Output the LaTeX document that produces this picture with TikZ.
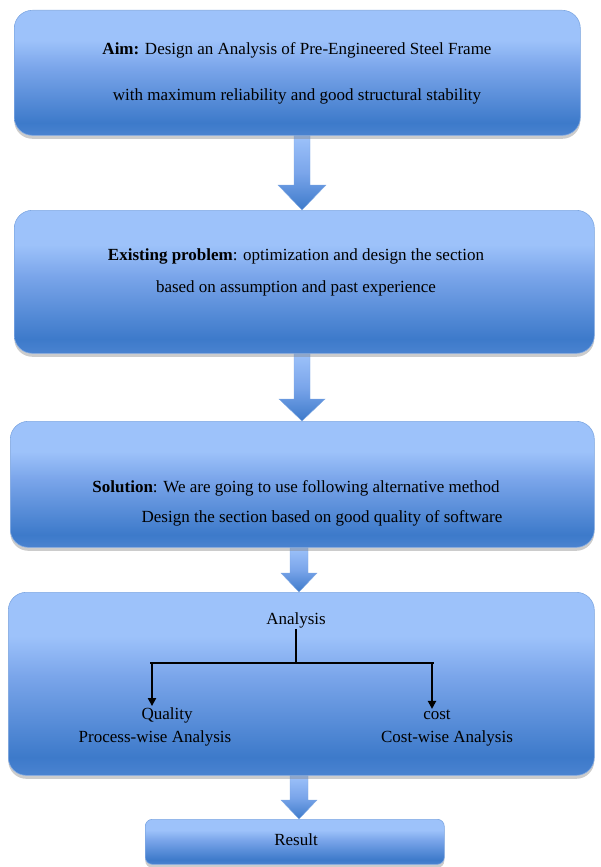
\documentclass[tikz,border=0pt]{standalone}
\usepackage{fontspec}
\setmainfont{Liberation Serif}
\usetikzlibrary{calc,shadows,arrows.meta,backgrounds}
\definecolor{topc}{HTML}{9DC2FA}
\definecolor{midc}{HTML}{7AA5EA}
\definecolor{botc}{HTML}{3D7ACA}
\definecolor{bedge}{HTML}{4A83D0}
\definecolor{edgec}{HTML}{7FA8E2}
\pgfdeclareverticalshading{boxshade}{100bp}{color(0bp)=(bedge); color(25bp)=(bedge); color(30bp)=(botc); color(52bp)=(midc); color(63bp)=(topc); color(100bp)=(topc)}
\pgfdeclareverticalshading{arrshade}{100bp}{color(0bp)=(botc); color(25bp)=(botc); color(50bp)=(midc); color(75bp)=(topc); color(100bp)=(topc)}
\newcommand{\blockarr}[6]{%
  \path[arrowfill] let \p1=(#1.south), \p2=(#2.north) in
  (#3pt-#4pt,\y1) -- (#3pt+#4pt,\y1) -- (#3pt+#4pt,\y2+#6pt) -- (#3pt+#5pt,\y2+#6pt)
  -- (#3pt,\y2) -- (#3pt-#5pt,\y2+#6pt) -- (#3pt-#4pt,\y2+#6pt) -- cycle;}
\begin{document}
\begin{tikzpicture}[x=1pt,y=-1pt,
  box/.style={draw=edgec, line width=0.6pt, rounded corners=18pt, shading=boxshade,
    drop shadow={opacity=0.4, shadow xshift=0pt, shadow yshift=-3.5pt},
    inner sep=0pt, anchor=north west},
  arrowfill/.style={shading=arrshade, draw=edgec, line width=0.4pt},
  txt/.style={font=\fontsize{17}{20}\selectfont, inner sep=1pt, text=black},
  tree/.style={line width=2.3pt, draw=black},
  treearr/.style={line width=2.3pt, draw=black, -{Triangle[length=8pt,width=8pt]}}]
\useasboundingbox (0,0) rectangle (600,867);

% boxes
\node[box, minimum width=566pt, minimum height=125pt] (b1) at (14,10) {};
\node[box, minimum width=580pt, minimum height=143pt] (b2) at (14,210) {};
\node[box, minimum width=584pt, minimum height=126pt] (b3) at (10,421) {};
\node[box, minimum width=586pt, minimum height=183pt] (b4) at (8,592) {};
\node[box, rounded corners=7pt, minimum width=299pt, minimum height=45pt] (b5) at (145,819) {};

% block arrows behind boxes
\begin{scope}[on background layer]
\blockarr{b1}{b2}{302}{8}{24}{25}
\blockarr{b2}{b3}{302}{8}{23}{22}
\blockarr{b3}{b4}{299}{9}{18}{19}
\blockarr{b4}{b5}{299}{9}{18}{19}
\end{scope}

% texts
\node[txt] (t1a) at (297,50) {\textbf{Aim:} Design an Analysis of Pre-Engineered Steel Frame};
\node[txt] (t1b) at (297,96) {with maximum reliability and good structural stability};
\node[txt] (t2a) at (296,256) {\textbf{Existing problem}: optimization and design the section};
\node[txt] (t2b) at (296,288) {based on assumption and past experience};
\node[txt] (t3a) at (296,488) {\textbf{Solution}: We are going to use following alternative method};
\node[txt] (t3b) at (322,518) {Design the section based on good quality of software};
\node[txt] (an) at (296,620) {Analysis};
\node[txt] (q1) at (167,715) {Quality};
\node[txt] (q2) at (155,738) {Process-wise Analysis};
\node[txt] (c1) at (437,715) {cost};
\node[txt] (c2) at (447,738) {Cost-wise Analysis};
\node[txt] (res) at (296,840) {Result};

% tree
\coordinate (split) at (296,663);
\coordinate (lj) at (150,663);
\coordinate (rj) at (434,663);
\coordinate (qa) at (152,663);
\coordinate (ca) at (432,663);
\draw[tree] (an.south) -- (split);
\draw[tree] (lj) -- (rj);
\draw[treearr] (qa) -- (qa |- q1.north);
\draw[treearr] (ca) -- (ca |- c1.north);
\end{tikzpicture}
\end{document}
